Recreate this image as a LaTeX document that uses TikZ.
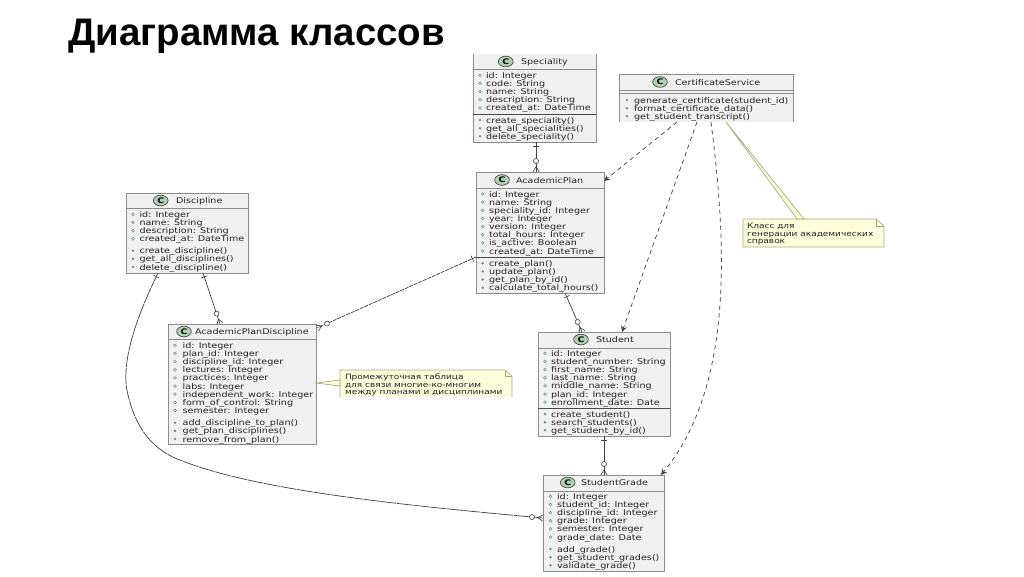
\documentclass[tikz,border=0pt]{standalone}
\usepackage{fontspec}
\usepackage{graphicx}
\setmainfont{DejaVu Sans}
\newfontfamily\titlefont{Liberation Sans}
\usetikzlibrary{calc,arrows.meta,decorations.markings,shapes.geometric}
\definecolor{boxfill}{HTML}{F1F1F1}
\definecolor{boxline}{HTML}{8C8C8C}
\definecolor{rowink}{HTML}{222222}
\definecolor{seam}{HTML}{4A4A4A}
\definecolor{notefill}{HTML}{FDFDDC}
\definecolor{noteline}{HTML}{A8A884}
\definecolor{iconfill}{HTML}{ADD1B2}
\definecolor{vis}{HTML}{5E9E78}
\definecolor{conn}{HTML}{444444}
\tikzset{
  x=.75pt,y=-.75pt,
  rowtext/.style={inner sep=0pt,outer sep=0pt,anchor=base west,text=rowink,font=\fontsize{7.2}{8}\selectfont},
  notetext/.style={rowtext,font=\fontsize{6.72}{8}\selectfont},
  heading/.style={rowtext},
  classfull/.style={draw=boxline,line width=.7pt,fill=boxfill,inner sep=0pt,outer sep=0pt},
  classopen/.style={fill=boxfill,inner sep=0pt,outer sep=0pt},
  edgeline/.style={draw=boxline,line width=.7pt},
  seamline/.style={draw=seam,line width=.7pt},
  headline/.style={draw=boxline,line width=.6pt},
  noteback/.style={fill=notefill,inner sep=0pt,outer sep=0pt},
  noteedge/.style={draw=noteline,line width=.5pt},
  link/.style={draw=conn,line width=.55pt},
  dep/.style={draw=conn,line width=.55pt,dash pattern=on 3.2pt off 2.8pt,-{Stealth[length=4.5pt,width=4.5pt,inset=1.5pt]}},
  ermark/.style={postaction={decorate},decoration={markings,
    mark=at position 3pt with {\draw[solid,draw=conn,line width=.5pt] (0,-3.2)--(0,3.2);},
    mark=at position -7.5pt with {\draw[solid,draw=conn,fill=white,line width=.5pt] (-1,0) circle[radius=2.5];},
    mark=at position -.1pt with {\draw[solid,draw=conn,line width=.5pt] (0,-3.2)--(-5,0)--(0,3.2);}}},
}
\newcommand{\squash}[1]{\scalebox{1}[.82]{#1}}
\def\kindfilled{fill}
% name, x1, y1, x2, y2, style
\newcommand{\classbox}[6]{%
  \node[#6,minimum width={(#4-#2)*.75pt},minimum height={(#5-#3)*.75pt}] (#1) at ({(#2+#4)/2},{(#3+#5)/2}) {};}
% name, icon x, text x, y, title
\newcommand{\classhead}[5]{%
  \node[draw=seam,fill=iconfill,line width=.5pt,ellipse,minimum width=11pt,minimum height=8pt,inner sep=0pt] (#1-icon) at (#2,#4) {\squash{\fontsize{7}{8}\selectfont\bfseries C}};
  \node[heading] (#1-title) at (#3,#4+3) {\squash{#5}};}
% name, kind (open/fill), icon x, text x, first y, rows
\newcommand{\classrows}[6]{%
  \def\kindnow{#2}%
  \foreach \rowitem [count=\rowi from 0] in {#6} {%
    \pgfmathsetmacro{\rowy}{#5+\rowi*8.15}
    \node[rowtext] (#1-#2\rowi) at (#4,\rowy+3) {\squash{\rowitem}};
    \ifx\kindnow\kindfilled
      \fill[vis] (#3,\rowy) circle[radius=1.4];
    \else
      \draw[vis,line width=.4pt] (#3,\rowy) circle[radius=1.4];
    \fi
  }}
\begin{document}
\begin{tikzpicture}
\useasboundingbox (0,0) rectangle (1024,576);
\fill[white] (0,0) rectangle (1024,576);

\node[inner sep=0pt,anchor=base west,font=\titlefont\bfseries\fontsize{28.8}{32}\selectfont] (title) at (68,45) {Диаграмма классов};

% ---- classes
\classbox{sp}{473}{54}{596}{142}{classopen}
\draw[edgeline] (sp.north west)--(sp.south west)--(sp.south east)--(sp.north east);
\draw[headline] (473,69.5)--(596,69.5);
\draw[seamline] (473,114)--(596,114);
\classhead{sp}{505.7}{521}{61.5}{Speciality}
\classrows{sp}{open}{480}{486}{75.3}{id: Integer,code: String,name: String,description: String,created\_at: DateTime}
\classrows{sp}{fill}{480}{486}{120}{create\_speciality(),get\_all\_specialities(),delete\_speciality()}

\classbox{cs}{619}{74}{793}{122}{classopen}
\draw[edgeline] (cs.south west)--(cs.north west)--(cs.north east)--(cs.south east);
\draw[headline] (619,90)--(793,90);
\draw[headline] (619,93)--(793,93);
\classhead{cs}{660}{675}{82}{CertificateService}
\classrows{cs}{fill}{627}{634}{100}{generate\_certificate(student\_id),format\_certificate\_data(),get\_student\_transcript()}

\classbox{ap}{476}{172}{604}{293}{classfull}
\draw[headline] (476,188)--(604,188);
\draw[seamline] (476,257)--(604,257);
\classhead{ap}{502}{516}{180}{AcademicPlan}
\classrows{ap}{open}{482.7}{489}{194}{id: Integer,name: String,speciality\_id: Integer,year: Integer,version: Integer,total\_hours: Integer,is\_active: Boolean,created\_at: DateTime}
\classrows{ap}{fill}{482.7}{489}{263.3}{create\_plan(),update\_plan(),get\_plan\_by\_id(),calculate\_total\_hours()}

\classbox{di}{126}{193}{248}{273}{classfull}
\draw[headline] (126,208)--(248,208);
\classhead{di}{160.7}{176}{200.5}{Discipline}
\classrows{di}{open}{133}{139.5}{214.3}{id: Integer,name: String,description: String,created\_at: DateTime}
\classrows{di}{fill}{133}{139.5}{250.7}{create\_discipline(),get\_all\_disciplines(),delete\_discipline()}

\classbox{pd}{168}{324}{316}{444}{classfull}
\draw[headline] (168,339)--(316,339);
\classhead{pd}{184}{195}{331.5}{AcademicPlanDiscipline}
\classrows{pd}{open}{175}{182.7}{345.3}{id: Integer,plan\_id: Integer,discipline\_id: Integer,lectures: Integer,practices: Integer,labs: Integer,independent\_work: Integer,form\_of\_control: String,semester: Integer}
\classrows{pd}{fill}{175}{182.7}{422.7}{add\_discipline\_to\_plan(),get\_plan\_disciplines(),remove\_from\_plan()}

\classbox{st}{538}{332}{670}{436}{classfull}
\draw[headline] (538,348)--(670,348);
\draw[seamline] (538,408)--(670,408);
\classhead{st}{581}{596}{339.5}{Student}
\classrows{st}{open}{545}{551}{353.3}{id: Integer,student\_number: String,first\_name: String,last\_name: String,middle\_name: String,plan\_id: Integer,enrollment\_date: Date}
\classrows{st}{fill}{545}{551}{414}{create\_student(),search\_students(),get\_student\_by\_id()}

\classbox{sg}{543}{475}{664}{571}{classfull}
\draw[headline] (543,491)--(664,491);
\classhead{sg}{567.7}{581}{482.5}{StudentGrade}
\classrows{sg}{open}{550.5}{557}{496.3}{id: Integer,student\_id: Integer,discipline\_id: Integer,grade: Integer,semester: Integer,grade\_date: Date}
\classrows{sg}{fill}{550.5}{557}{549}{add\_grade(),get\_student\_grades(),validate\_grade()}

% ---- notes
\classbox{na}{743}{219}{884}{247}{noteback}
\fill[white] (876,218.5)--(884.5,218.5)--(884.5,226)--cycle;
\draw[noteedge] (na.south west)--(na.north west)--(876,219)--(884,226)--(na.south east)--cycle;
\draw[noteedge] (876,219)--(876,226)--(884,226);
\node[notetext] (na-t0) at (747,228.5) {\squash{Класс для}};
\node[notetext] (na-t1) at (747,236) {\squash{генерации академических}};
\node[notetext] (na-t2) at (747,243.7) {\squash{справок}};

\classbox{nb}{340}{370}{512}{397}{noteback}
\fill[white] (505,369.5)--(512.5,369.5)--(512.5,376)--cycle;
\draw[noteedge] (nb.south west)--(nb.north west)--(505,370)--(512,376)--(nb.south east);
\draw[noteedge] (505,370)--(505,376)--(512,376);
\node[notetext] (nb-t0) at (345,379.5) {\squash{Промежуточная таблица}};
\node[notetext] (nb-t1) at (345,387) {\squash{для связи многие-ко-многим}};
\node[notetext] (nb-t2) at (345,394.5) {\squash{между планами и дисциплинами}};

% ---- note connectors
\filldraw[noteedge,fill=notefill] ($(cs.south west)+(107,0)$)--($(na.north west)+(61,0)$)--($(na.north west)+(54,0)$)--cycle;
\filldraw[noteedge,fill=notefill] ($(pd.north east)+(0,59)$)--($(nb.north west)+(0,10)$)--($(nb.north west)+(0,16)$)--cycle;

% ---- relations
\draw[link,ermark] ($(sp.south west)+(63,0)$)--($(ap.north west)+(60,0)$);
\draw[link,ermark] ($(ap.south west)+(89,0)$)--($(st.north west)+(44,0)$);
\draw[link,ermark] ($(st.south west)+(66,0)$)--($(sg.north west)+(61,0)$);
\draw[link,ermark] ($(di.south west)+(77,0)$)--($(pd.north west)+(52,0)$);
\draw[link,ermark,dash pattern=on 3pt off .7pt] ($(ap.north west)+(0,85)$)--($(pd.north east)+(1,4)$);
\draw[link,ermark,dash pattern=on 12pt off .6pt] ($(di.south west)+(32,0)$) .. controls (135,320) and (120,365) .. (128,395) .. controls (135,425) and (150,447) .. (175,458) .. controls (250,490) and (400,505) .. ($(sg.north west)+(0,43)$);

\draw[dep] ($(cs.south west)+(58,0)$)--($(ap.north east)+(0,9)$);
\draw[dep] ($(cs.south west)+(78,0)$)--($(st.north west)+(84,0)$);
\draw[dep] ($(cs.south west)+(92,0)$) .. controls (726,240) and (735,385) .. ($(sg.north east)+(-3,0)$);
\end{tikzpicture}
\end{document}
